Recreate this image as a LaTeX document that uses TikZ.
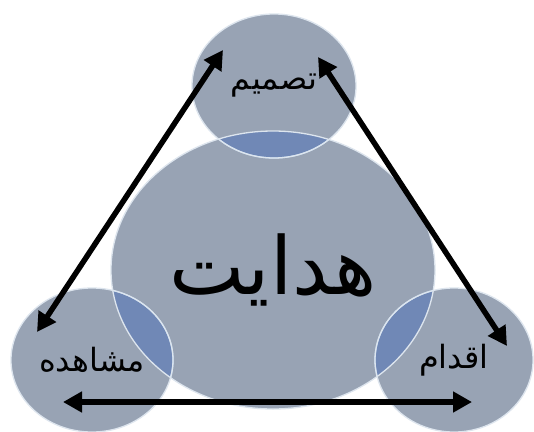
\documentclass[tikz,border=0pt]{standalone}
\usepackage{fontspec}
\newfontfamily\arabicfont[Script=Arabic]{DejaVu Sans}
\TeXXeTstate=1
\usepackage{xcolor}
\usetikzlibrary{arrows.meta, shapes.geometric}
\definecolor{disc}{HTML}{98A3B4}
\definecolor{lap}{HTML}{7088B6}
\definecolor{rim}{HTML}{DDE5EE}
\definecolor{laprim}{HTML}{BFD8F2}
\tikzset{
  disc/.style ={ellipse, fill=disc, inner sep=0pt, outer sep=0pt,
                text=black, minimum height=144pt},
  ar/.style   ={{Triangle[length=19pt,width=20pt]}-{Triangle[length=19pt,width=20pt]},
                line width=5.5pt, black}
}
\newcommand{\fa}[1]{{\arabicfont\beginR #1\endR}}

\begin{document}
\begin{tikzpicture}[
  x=1pt, y=-1pt,
  lbl/.style={font=\fontsize{32}{36}\selectfont},
  rimline/.style={draw=rim, line width=1.3pt}
]
\useasboundingbox (0,0) rectangle (534,431);
\fill[white] (0,0) rectangle (534,431);
% discs
\node[disc, minimum width=324pt, minimum height=278pt,
      font=\fontsize{80}{90}\selectfont]           (hedayat)   at (273,270) {\fa{هدایت}};
\node[disc, lbl, minimum width=164pt]              (tasmim)    at (274,86)  {\fa{تصمیم}};
\node[disc, lbl, minimum width=162pt]              (moshahede) at (92,360)  {\fa{مشاهده}};
\node[disc, lbl, minimum width=158pt]              (eqdam)     at (454,360) {\fa{اقدام}};
% overlaps
\begin{scope}
  \clip (hedayat.center) ellipse [x radius=162pt, y radius=139pt];
  \foreach \n/\rx in {tasmim/82pt, moshahede/81pt, eqdam/79pt}
    \fill[lap] (\n.center) ellipse [x radius=\rx, y radius=72pt];
  \foreach \n/\rx in {tasmim/82pt, moshahede/81pt, eqdam/79pt}
    \draw[laprim, line width=1.3pt] (\n.center) ellipse [x radius=\rx, y radius=72pt];
\end{scope}
\foreach \n/\rx/\ry in {hedayat/162pt/139pt, tasmim/82pt/72pt,
                        moshahede/81pt/72pt, eqdam/79pt/72pt}
  \draw[rimline] (\n.center) ellipse [x radius=\rx, y radius=\ry];
% arrow ends
\coordinate (tasL)  at (223,50);
\coordinate (tasR)  at (318,57);
\coordinate (moshT) at (37,332);
\coordinate (moshB) at (63,402);
\coordinate (eqdT)  at (507,346);
\coordinate (eqdB)  at (472,402);
\draw[ar] (tasL)  -- (moshT);
\draw[ar] (tasR)  -- (eqdT);
\draw[ar] (moshB) -- (eqdB);
\end{tikzpicture}
\end{document}
